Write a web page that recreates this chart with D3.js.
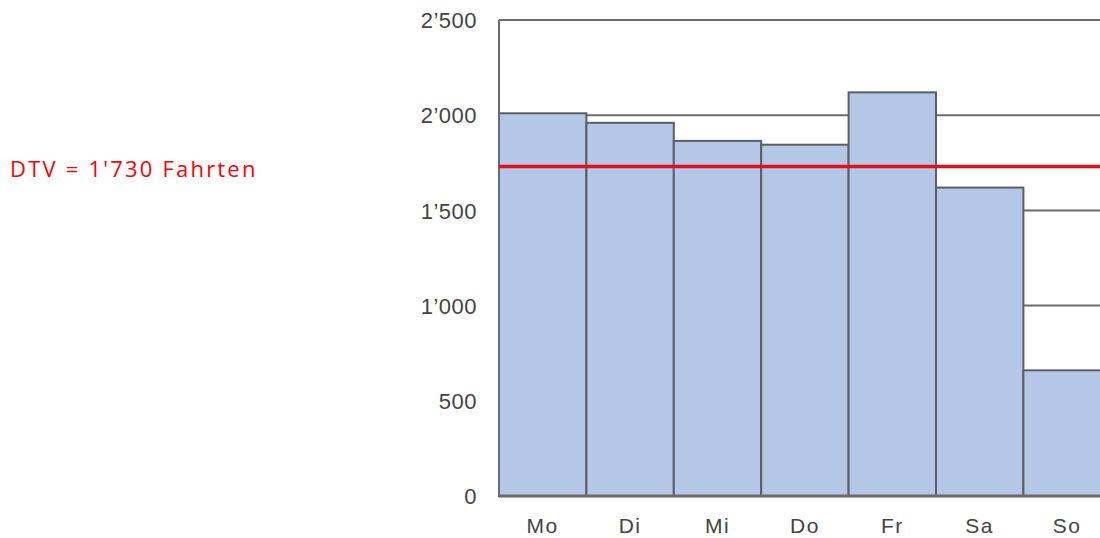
<!DOCTYPE html>
<html>
<head>
<meta charset="utf-8">
<script src="https://cdn.jsdelivr.net/npm/d3@7"></script>
<style>
  body { margin: 0; background: #fff; }
  svg { display: block; }
</style>
</head>
<body>
<div id="chart"></div>
<script>
let days = ["Mo", "Di", "Mi", "Do", "Fr", "Sa", "So"];
let trips = [2010, 1960, 1865, 1845, 2120, 1620, 660];
let dtv = 1730;
let yTicks = [0, 500, 1000, 1500, 2000, 2500];
let yTickLabels = ["0", "500", "1’000", "1’500", "2’000", "2’500"];

let margin = {top: 20, right: 0, bottom: 42, left: 499},
    width = 1100 - margin.left - margin.right,
    height = 538 - margin.top - margin.bottom;

let svg = d3.select("#chart")
    .append("svg")
    .attr("width", 1100)
    .attr("height", 538);

let g = svg.append("g")
    .attr("transform", "translate(" + margin.left + "," + margin.top + ")");

// band for each day, last one runs past the right edge
let x = d3.scaleBand()
    .domain(days)
    .range([0, 87.4 * days.length])
    .padding(0);

let y = d3.scaleLinear()
    .domain([0, 2500])
    .range([height, 0]);

// gridlines behind bars
g.selectAll(".grid")
    .data(yTicks.filter(function (d) { return d > 0; }))
    .enter()
    .append("line")
    .attr("x1", 0)
    .attr("x2", width)
    .attr("y1", function (d) { return y(d); })
    .attr("y2", function (d) { return y(d); })
    .style("stroke", "#6b6b6b")
    .style("stroke-width", 2);

g.selectAll("rect")
    .data(trips)
    .enter()
    .append("rect")
    .attr("x", function (d, i) { return x(days[i]); })
    .attr("y", function (d) { return y(d); })
    .attr("width", x.bandwidth())
    .attr("height", function (d) { return height - y(d); })
    .style("fill", "#b4c7e7")
    .style("stroke", "#5a5f66")
    .style("stroke-width", 2);

// left frame and base line
g.append("line")
    .attr("x1", 0).attr("x2", 0)
    .attr("y1", y(2500)).attr("y2", y(0))
    .style("stroke", "#6b6b6b")
    .style("stroke-width", 2);

g.append("line")
    .attr("x1", 0).attr("x2", width)
    .attr("y1", y(0)).attr("y2", y(0))
    .style("stroke", "#6b6b6b")
    .style("stroke-width", 3);

// DTV line
g.append("line")
    .attr("x1", 0).attr("x2", width)
    .attr("y1", y(dtv)).attr("y2", y(dtv))
    .style("stroke", "#e3101c")
    .style("stroke-width", 3.5);

let yAxis = d3.axisLeft(y)
    .tickValues(yTicks)
    .tickFormat(function (d, i) { return yTickLabels[i]; })
    .tickSize(0)
    .tickPadding(22);

let ya = g.append("g").call(yAxis);
ya.select(".domain").remove();
ya.selectAll("text")
    .style("font-family", "Liberation Sans, Arial, sans-serif")
    .style("font-size", "22px")
    .style("letter-spacing", "0.5px")
    .style("fill", "#444")
    .attr("dy", "0.35em");

let xAxis = d3.axisBottom(x)
    .tickSize(0)
    .tickPadding(22);

let xa = g.append("g")
    .attr("transform", "translate(0," + height + ")")
    .call(xAxis);
xa.select(".domain").remove();
xa.selectAll("text")
    .style("font-family", "Liberation Sans, Arial, sans-serif")
    .style("font-size", "21px")
    .style("letter-spacing", "1.5px")
    .style("fill", "#444");

svg.append("text")
    .attr("x", 10)
    .attr("y", 177)
    .style("font-family", "Open Sans, sans-serif")
    .style("font-size", "22px")
    .style("letter-spacing", "2.2px")
    .style("fill", "#ff0000")
    .text("DTV = 1'730 Fahrten");
</script>
</body>
</html>
